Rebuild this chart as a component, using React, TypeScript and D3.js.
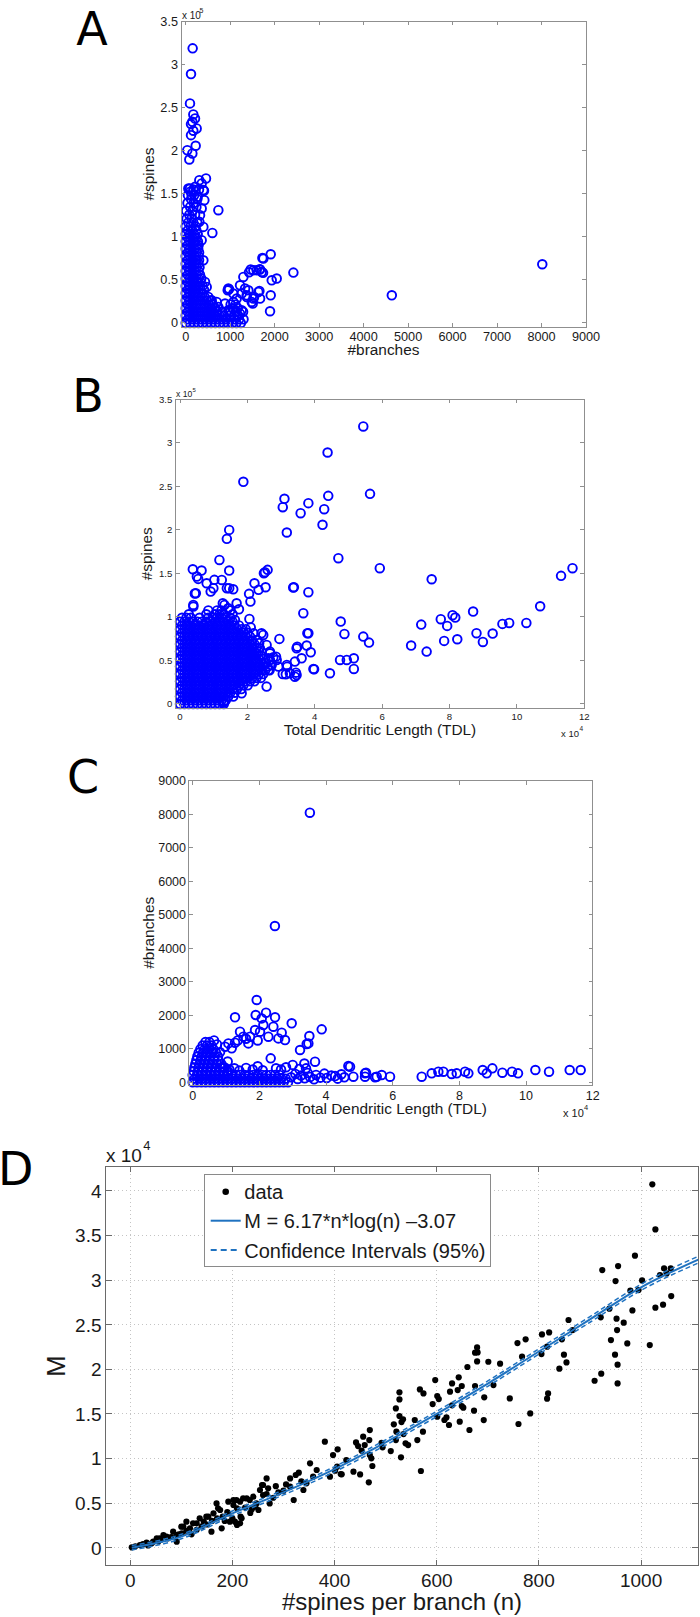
import React from "react";
import * as d3 from "d3";

const FONT = "'Liberation Sans', Arial, Helvetica, sans-serif";
const LETTER_FONT = "'DejaVu Sans', Verdana, sans-serif";
const BLUE = "#0000ff";
const TXT = "#1a1a1a";

type Row = [number, number[]];
type Pt = [number, number];

// ---------------- Panel A : #spines (thousands) vs #branches ----------------
const aTickX = [0, 1000, 2000, 3000, 4000, 5000, 6000, 7000, 8000, 9000];
const aTickY = [0, 50, 100, 150, 200, 250, 300, 350];
const aTickYLabels = ["0", "0.5", "1", "1.5", "2", "2.5", "3", "3.5"];
// dense core: [spines (k), branches list]
const aCoreRows: Row[] = [
  [0, [0, 95, 190, 285, 380, 475, 570, 665, 760, 855, 950, 1045, 1140, 1240]],
  [4.3, [48, 143, 238, 333, 428, 523, 618, 713, 808, 903, 1000, 1100, 1200, 1300]],
  [8.6, [0, 95, 190, 285, 380, 475, 570, 665, 760, 860, 980, 1090, 1180]],
  [13, [48, 143, 238, 333, 428, 523, 618, 713, 820, 1000, 1130, 1290]],
  [17.2, [0, 95, 190, 285, 380, 475, 570, 665, 1050, 1170]],
  [21.5, [48, 143, 238, 333, 428, 523, 610, 1010, 1120]],
  [26, [0, 95, 190, 285, 380, 475, 560]],
  [30, [48, 143, 238, 333, 428]],
  [34.4, [0, 95, 190, 285, 380]],
  [38.7, [48, 143, 238, 333, 410]],
  [43, [0, 95, 190, 285, 380]],
  [47.3, [48, 143, 238, 333]],
  [51.6, [0, 95, 190, 285, 350]],
  [56, [48, 143, 238, 320]],
  [60.2, [0, 95, 190, 285]],
  [64.5, [48, 143, 238, 310]],
  [68.8, [0, 95, 190, 285]],
  [73, [48, 143, 238, 300]],
  [77.4, [0, 95, 190, 285]],
  [81.7, [48, 143, 238, 300]],
  [86, [0, 95, 190, 280]],
  [90.3, [48, 143, 238, 290]],
  [94.6, [0, 95, 190, 275]],
  [99, [48, 143, 238]],
  [103, [0, 95, 190, 270]],
  [107.5, [48, 143, 238]],
  [112, [0, 110, 220]],
  [116.5, [60, 170, 260]],
  [121, [20, 130]],
  [125.5, [80, 210]],
  [130, [10, 150]],
  [134.5, [100, 240]],
  [139, [40, 180]],
  [143.5, [120, 260]],
  [148, [50, 190]],
  [152.5, [110]],
];
// individual circles: [branches, spines (k)]
const aPoints: Pt[] = [
  [156, 318.3], [119, 288.5], [96, 254.5], [171, 241.7], [209, 237.1], [149, 233.2], [119, 230.5],
  [246, 225.5], [171, 222.8], [119, 217.7], [224, 205.4], [36, 200.3], [149, 196.5], [81, 189.5],
  [456, 167.5], [306, 165.5], [411, 153.2], [209, 157.8], [96, 155.9], [359, 161.7], [734, 130.7],
  [599, 104.4], [59, 155.9], [172, 154.7], [299, 154.7], [134, 148.1], [269, 146.2], [397, 154],
  [419, 142.3], [359, 132.7], [322, 125], [307, 117.2], [397, 111.4], [359, 96], [397, 72.7],
  [434, 47.6], [472, 41.8], [509, 30.2], [584, 26.3], [697, 24.4], [734, 18.6],
  [1746, 74.7], [1911, 79.7], [1461, 61.9], [1521, 61.1], [1596, 61.1], [1671, 61.9], [1709, 59.2],
  [2421, 58.4], [1934, 49.5], [2046, 51.5], [1296, 53.4], [1221, 43.7], [959, 39.9], [1409, 37.9],
  [1634, 36], [1911, 32.1], [1484, 24.4], [1896, 13.6], [1371, 32.1], [1071, 34.1], [1521, 28.3],
  [1071, 16.7], [1259, 14.7], [1424, 58.8], [1664, 62.3], [1739, 58.1], [1724, 75.4], [974, 39.1],
  [944, 37.9], [1334, 39.9], [1372, 30.2], [1537, 30.2], [1657, 37.2], [1507, 22.5], [1672, 28.3],
  [1146, 28.3], [1259, 34.1], [1072, 24.4], [959, 14.7], [1222, 10.9], [884, 22.5],
  [4634, 32.1], [8017, 68.1],
];

// ---------------- Panel B : #spines (k) vs TDL (k) ----------------
const bTickX = [0, 20, 40, 60, 80, 100, 120];
const bTickXLabels = ["0", "2", "4", "6", "8", "10", "12"];
const bTickY = [0, 50, 100, 150, 200, 250, 300, 350];
const bTickYLabels = ["0", "0.5", "1", "1.5", "2", "2.5", "3", "3.5"];
const bCoreRows: Row[] = [
  [0, [0, 1.3, 2.6, 3.9, 5.2, 6.5, 7.8, 9.1, 10.4, 11.7, 13]],
  [4.3, [0.6, 1.9, 3.2, 4.5, 5.8, 7.1, 8.4, 9.7, 11, 12.3, 13.6]],
  [8.6, [0, 1.3, 2.6, 3.9, 5.2, 6.5, 7.8, 9.1, 10.4, 11.7, 13, 14.3]],
  [13, [0.6, 1.9, 3.2, 4.5, 5.8, 7.1, 8.4, 9.7, 11, 12.3, 13.6, 14.9, 16.2]],
  [17.2, [0, 1.3, 2.6, 3.9, 5.2, 6.5, 7.8, 9.1, 10.4, 11.7, 13, 14.3, 15.6, 16.9, 18.2]],
  [21.5, [0.6, 1.9, 3.2, 4.5, 5.8, 7.1, 8.4, 9.7, 11, 12.3, 13.6, 14.9, 16.2, 17.5, 18.8, 20.1]],
  [26, [0, 1.3, 2.6, 3.9, 5.2, 6.5, 7.8, 9.1, 10.4, 11.7, 13, 14.3, 15.6, 16.9, 18.2, 19.5, 20.8, 22.1]],
  [30, [0.6, 1.9, 3.2, 4.5, 5.8, 7.1, 8.4, 9.7, 11, 12.3, 13.6, 14.9, 16.2, 17.5, 18.8, 20.1, 21.4, 22.7, 24]],
  [34.4, [0, 1.3, 2.6, 3.9, 5.2, 6.5, 7.8, 9.1, 10.4, 11.7, 13, 14.3, 15.6, 16.9, 18.2, 19.5, 20.8, 22.1, 23.4, 24.7]],
  [38.7, [0.6, 1.9, 3.2, 4.5, 5.8, 7.1, 8.4, 9.7, 11, 12.3, 13.6, 14.9, 16.2, 17.5, 18.8, 20.1, 21.4, 22.7, 24, 25.3, 26.6]],
  [43, [0, 1.3, 2.6, 3.9, 5.2, 6.5, 7.8, 9.1, 10.4, 11.7, 13, 14.3, 15.6, 16.9, 18.2, 19.5, 20.8, 22.1, 23.4, 24.7, 26]],
  [47.3, [0.6, 1.9, 3.2, 4.5, 5.8, 7.1, 8.4, 9.7, 11, 12.3, 13.6, 14.9, 16.2, 17.5, 18.8, 20.1, 21.4, 22.7, 24, 25.3]],
  [51.6, [0, 1.3, 2.6, 3.9, 5.2, 6.5, 7.8, 9.1, 10.4, 11.7, 13, 14.3, 15.6, 16.9, 18.2, 19.5, 20.8, 22.1, 23.4, 24.7]],
  [56, [0.6, 1.9, 3.2, 4.5, 5.8, 7.1, 8.4, 9.7, 11, 12.3, 13.6, 14.9, 16.2, 17.5, 18.8, 20.1, 21.4, 22.7, 24]],
  [60.2, [0, 1.3, 2.6, 3.9, 5.2, 6.5, 7.8, 9.1, 10.4, 11.7, 13, 14.3, 15.6, 16.9, 18.2, 19.5, 20.8, 22.1, 23.4]],
  [64.5, [0.6, 1.9, 3.2, 4.5, 5.8, 7.1, 8.4, 9.7, 11, 12.3, 13.6, 14.9, 16.2, 17.5, 18.8, 20.1, 21.4, 22.7]],
  [68.8, [0, 1.3, 2.6, 3.9, 5.2, 6.5, 7.8, 9.1, 10.4, 11.7, 13, 14.3, 15.6, 16.9, 18.2, 19.5, 20.8, 22.1]],
  [73, [0.6, 1.9, 3.2, 4.5, 5.8, 7.1, 8.4, 9.7, 11, 12.3, 13.6, 14.9, 16.2, 17.5, 18.8, 20.1, 21.4]],
  [77.4, [0, 1.3, 2.6, 3.9, 5.2, 6.5, 7.8, 9.1, 10.4, 11.7, 13, 14.3, 15.6, 16.9, 18.2, 19.5, 20.8]],
  [81.7, [0.6, 1.9, 3.2, 4.5, 5.8, 7.1, 8.4, 9.7, 11, 12.3, 13.6, 14.9, 16.2, 17.5, 18.8, 20.1]],
  [86, [0, 1.3, 2.6, 3.9, 5.2, 6.5, 7.8, 9.1, 10.4, 11.7, 13, 14.3, 15.6, 16.9, 18.2, 19.5]],
  [90.3, [0.6, 1.9, 3.2, 4.5, 5.8, 7.1, 8.4, 9.7, 11, 12.3, 13.6, 14.9, 16.2, 17.5]],
  [94.6, [0, 1.3, 2.6, 3.9, 5.2, 6.5, 7.8, 9.1, 10.4, 11.7, 13, 14.3, 15.6]],
  [99, [0.6, 1.9, 3.2, 5.8, 8.4, 9.7, 11, 12.3, 13.6, 14.9]],
  [103, [2.6, 7.8, 10.4, 11.7, 13, 15.6]],
  [107.5, [8.4, 11, 12.3, 14.9]],
];
const bPoints: Pt[] = [
  [43.8, 288.9], [18.8, 255.2], [31.0, 235.7], [30.5, 226.1], [38.1, 230.7], [35.8, 219.2], [42.8, 223.8],
  [44.0, 239.1], [42.3, 205.8], [31.7, 197.0], [47.0, 167.5], [14.6, 200], [13.9, 189.7], [11.7, 165.5],
  [3.8, 154.8], [6.4, 153.3], [5.0, 146.4], [5.4, 143.7], [14.6, 153.3], [25.2, 151.4], [26.0, 154.1],
  [22.1, 138.7], [23.3, 131.1], [25.4, 134.1], [10.2, 142.6], [13.9, 133.0], [15.8, 131.8], [33.6, 133.8],
  [38.1, 128.4], [36.6, 104.3], [4.7, 127.2], [3.96, 111.9], [47.7, 94.7], [48.8, 80.5], [38.1, 81.3],
  [29.5, 74.8], [34.8, 65.9], [37.6, 67.1], [38.8, 59.4], [36.1, 52.5], [34.6, 33.4], [39.6, 40.3],
  [44.5, 35.3], [47.5, 50.6], [30.5, 34.5], [32.6, 35.3], [31.7, 44.9], [34.1, 48.7], [29.2, 43.0],
  [26.7, 50.6], [54.4, 318.8], [56.4, 241.4], [59.3, 156.0], [74.7, 143.3], [51.6, 52.5], [51.6, 40.3],
  [54.4, 77.4], [56.1, 70.5], [68.6, 67.1], [71.6, 91.2], [73.2, 60.2], [77.4, 97.4], [78.4, 72.5],
  [79.3, 89.7], [80.9, 102.0], [81.7, 99.3], [82.3, 74.4], [87.0, 106.2], [88.0, 81.3], [89.9, 71.3],
  [92.8, 80.9], [95.7, 92.0], [97.7, 93.1], [102.8, 93.1], [106.9, 112.3], [113.1, 147.2], [116.5, 156.0],
  [12.4, 142.5], [14.6, 133], [9.9, 133], [24.9, 150.2], [20.5, 126.5], [20.9, 117.6], [33.8, 134.1],
  [37.8, 81.2], [34.6, 64], [39.8, 39.9], [31.4, 34.1], [34.1, 31.4], [34.4, 36], [31.8, 42.9],
  [26.2, 52.5], [26.7, 60.2], [24.7, 79.3], [20.6, 97.7], [25.7, 20], [18.3, 12.3], [12.9, 1.6],
  [15.8, 8.5], [28.5, 54.4], [4.4, 127], [3.95, 113.8], [7.9, 138.7], [9.1, 129.1], [12.7, 115.7],
  [13.2, 113.8], [14.3, 110], [16.8, 115.7], [17.5, 108.8], [16.3, 96.6], [21.8, 81.2], [24.2, 81.2],
  [22.9, 73.6], [25.7, 67.8], [23.7, 64], [22.7, 58.3], [26.7, 58.3], [27.7, 53.7], [28.7, 50.6],
  [20.6, 58.3], [13.1, 2.7], [49.5, 50.6], [27.2, 44.5], [26.3, 39], [23.5, 70], [21, 88],
];

// ---------------- Panel C : #branches vs TDL (k) ----------------
const cTickX = [0, 20, 40, 60, 80, 100, 120];
const cTickXLabels = ["0", "2", "4", "6", "8", "10", "12"];
const cTickY = [0, 1000, 2000, 3000, 4000, 5000, 6000, 7000, 8000, 9000];
const cCoreRows: Row[] = [
  [0, [0, 1.3, 2.6, 3.9, 5.2, 6.5, 7.8, 9.1, 10.4, 11.7, 13, 14.3, 15.6, 16.9, 18.2, 19.5, 20.8, 22.1, 23.4, 24.7, 26, 27.3, 28.6]],
  [110, [0.6, 1.9, 3.2, 4.5, 5.8, 7.1, 8.4, 9.7, 11, 12.3, 13.6, 14.9, 16.2, 17.5, 18.8, 20.1, 21.4, 22.7, 24, 25.3, 26.6, 27.9]],
  [220, [0, 1.3, 2.6, 3.9, 5.2, 6.5, 7.8, 9.1, 10.4, 11.7, 13, 14.3, 15.6, 16.9, 18.2, 19.5, 20.8, 22.1, 23.4, 24.7, 26]],
  [330, [0.3, 1.6, 2.9, 4.2, 5.5, 6.8, 8.1, 9.4, 10.6]],
  [440, [0.5, 1.8, 3.1, 4.4, 5.7, 7, 8.3, 9.6]],
  [550, [0.8, 2.1, 3.4, 4.7, 6, 7.3, 8.6]],
  [660, [1.1, 2.4, 3.7, 5, 6.3, 7.6]],
  [770, [1.4, 2.7, 4, 5.3, 6.6, 7.6]],
  [880, [1.8, 3.1, 4.4, 5.7, 7]],
  [990, [2.3, 3.6, 4.9, 6.2]],
  [1100, [3, 4.3, 5.6]],
  [1200, [3.8, 5]],
];
// [TDL (k), branches]
const cPoints: Pt[] = [
  [35.15, 8046], [24.66, 4664], [19.2, 2456], [22, 2078], [24.7, 1939], [12.7, 1939], [29.7, 1760],
  [38.7, 1580], [14.2, 1511], [35, 1382], [34.2, 1143], [32.2, 964], [23.4, 715], [36.7, 616],
  [34, 417], [27.7, 1262], [18.9, 2008], [20.7, 1908], [24.2, 1660], [26.7, 1480], [18.7, 1560],
  [17.2, 1361], [15.2, 1361], [12.7, 1182], [10.7, 1162], [9.7, 1063], [11.7, 1013], [16.7, 1162],
  [20.2, 1510], [21.2, 1710], [22.7, 1361], [25.7, 1311], [34.7, 1162], [46.7, 486], [52, 287],
  [55.2, 167], [42.7, 187], [13.5, 1250], [16, 1300], [19.5, 1250], [9, 450], [11, 380], [12.5, 420],
  [14, 350], [16, 430], [18, 380], [19.5, 480], [21, 360], [25, 420], [26.5, 380], [28, 450],
  [30, 520], [32, 400], [33.5, 560], [10.5, 620], [8.2, 900], [7.3, 1130], [6.4, 1250],
  [29.5, 150], [30.8, 250], [31.5, 100], [32.5, 200], [33.6, 120], [34.5, 280], [35.2, 160],
  [36.4, 90], [37, 220], [38.3, 140], [39.5, 260], [40.2, 130], [41.6, 200], [43.5, 110], [44.6, 240],
  [45.5, 150], [47.2, 466], [48.2, 168], [51.7, 268], [51.7, 168], [54.7, 148], [56.7, 218],
  [59.2, 168], [68.7, 168], [71.7, 268], [73.7, 317], [75.2, 317], [77.7, 248], [79.2, 268],
  [81.7, 317], [82.7, 268], [87, 367], [88.2, 268], [89.9, 417], [92.9, 288], [95.8, 317],
  [97.6, 268], [102.8, 367], [106.9, 317], [113.1, 367], [116.4, 367],
];

// ---------------- Panel D : M vs #spines per branch ----------------
const dTickX = [0, 200, 400, 600, 800, 1000];
const dTickY = [0, 5000, 10000, 15000, 20000, 25000, 30000, 35000, 40000];
const dTickYLabels = ["0", "0.5", "1", "1.5", "2", "2.5", "3", "3.5", "4"];
// [n, M]
const dPoints: Pt[] = [
  [1022, 40740], [1028, 35690], [988, 32740], [924, 31130], [955, 31580], [950, 29900], [1002, 29970],
  [979, 28820], [995, 28890], [983, 26610], [1037, 30570], [1045, 31320], [1058, 31320], [1050, 30760],
  [1059, 28220], [1028, 26910], [1043, 27250], [1017, 22720], [938, 26800], [921, 25830], [952, 25680],
  [966, 25230], [953, 24400], [941, 23280], [973, 22910], [949, 21640], [954, 20520], [922, 19510],
  [909, 18720], [954, 18420], [858, 25530], [866, 24400], [845, 23360], [849, 21640], [854, 20780],
  [840, 20070], [820, 24140], [806, 23920], [816, 22540], [805, 21710], [818, 17300], [816, 16710],
  [758, 22950], [774, 23360], [767, 21420], [783, 15060], [760, 13870], [743, 16740], [724, 20630],
  [701, 20850], [679, 22460], [680, 21900], [675, 21870], [679, 20890], [660, 20260], [711, 18240],
  [693, 16860], [675, 18130], [673, 15360], [692, 14310], [643, 19100], [630, 18420], [641, 17680],
  [626, 17490], [649, 18130], [652, 15700], [649, 15890], [645, 14130], [664, 13200], [630, 15960],
  [619, 14610], [624, 13760], [615, 14320], [604, 16670], [601, 17000], [597, 18800], [592, 16110],
  [601, 14690], [567, 17750], [574, 17300], [573, 13010], [562, 12070], [569, 8600], [527, 17420],
  [527, 16630], [520, 15620], [527, 14760], [534, 14390], [516, 13830], [531, 14090], [521, 13010],
  [535, 12740], [539, 11700], [544, 11510], [530, 10130], [520, 12070], [492, 11770], [494, 11250],
  [510, 10840], [557, 14320], [469, 13190], [468, 12070], [456, 12450], [442, 11810], [459, 11510],
  [469, 10390], [474, 9160], [472, 10020], [467, 7330], [450, 8220], [437, 8520], [453, 10880],
  [446, 11400], [381, 11890], [397, 10390], [406, 11030], [401, 8630], [412, 8260], [423, 9830],
  [391, 7960], [352, 9460], [365, 8710], [358, 7960], [320, 5350], [345, 7220], [339, 6470],
  [313, 7770], [324, 8150], [267, 7770], [260, 7030], [254, 6470], [270, 6660], [260, 5910],
  [273, 4970], [241, 5720], [251, 4230], [228, 5530], [215, 5160], [202, 5350], [192, 5160],
  [209, 4410], [216, 3480], [200, 3290], [195, 2920], [215, 2730], [179, 2170], [169, 4970],
  [176, 4230], [163, 3850], [144, 2920], [136, 3290], [153, 3480], [159, 1800], [123, 2730],
  [117, 2170], [104, 2360], [110, 2920], [101, 1610], [91, 1420], [84, 1800], [74, 1050],
  [65, 1420], [52, 1050], [42, 490], [32, 560], [19, 300], [3, 40], [405, 9090], [414, 8230],
  [330, 8410], [335, 7440], [313, 6840], [258, 7030], [267, 6020], [247, 4970], [234, 5350],
  [238, 4300], [221, 5540], [208, 5350], [202, 4790], [192, 3850], [205, 2920], [218, 3290],
  [209, 2550], [172, 4410], [181, 3480], [149, 3480], [130, 2730], [100, 2360], [71, 1240],
  [58, 1050], [45, 680], [91, 680], [10, 150], [25, 400], [35, 250], [55, 700], [60, 900],
  [80, 1200], [95, 1500], [110, 1900], [120, 1500], [130, 2000], [140, 2400], [150, 2600],
  [160, 3000], [170, 3300], [185, 3000], [190, 4000], [225, 4500], [235, 3900], [245, 4600],
  [280, 5600], [290, 6200], [300, 6400], [305, 7100], [285, 6900],
];
const fitN = [3, 100, 200, 300, 400, 500, 600, 700, 800, 900, 1000, 1112];
const fitM = [0, 1250, 3850, 6200, 8800, 11800, 15000, 18400, 22000, 25600, 29200, 32300];
const ciLow = [-250, 1000, 3580, 5920, 8510, 11500, 14700, 18100, 21700, 25280, 28860, 31920];
const ciHigh = [250, 1500, 4120, 6480, 9090, 12100, 15300, 18700, 22300, 25920, 29540, 32680];

const flatten = (rows: Row[]): Pt[] => rows.flatMap(([yv, xs]) => xs.map((xv) => [xv, yv] as Pt));

type Scale = d3.ScaleLinear<number, number>;

function Frame({ x, y, xTicks, yTicks, stroke, len }: { x: Scale; y: Scale; xTicks: number[]; yTicks: number[]; stroke: string; len: number }) {
  const [x0, x1] = x.range();
  const [yb, yt] = y.range();
  return (
    <g stroke={stroke} strokeWidth={1} fill="none" shapeRendering="crispEdges">
      <rect x={x0} y={yt} width={x1 - x0} height={yb - yt} />
      {xTicks.map((t) => (
        <g key={"x" + t}>
          <line x1={x(t)} x2={x(t)} y1={yb} y2={yb - len} />
          <line x1={x(t)} x2={x(t)} y1={yt} y2={yt + len} />
        </g>
      ))}
      {yTicks.map((t) => (
        <g key={"y" + t}>
          <line x1={x0} x2={x0 + len} y1={y(t)} y2={y(t)} />
          <line x1={x1} x2={x1 - len} y1={y(t)} y2={y(t)} />
        </g>
      ))}
    </g>
  );
}

function Circles({ pts, x, y }: { pts: Pt[]; x: Scale; y: Scale }) {
  return (
    <g fill="none" stroke={BLUE} strokeWidth={1.9}>
      {pts.map((p, i) => (
        <circle key={i} cx={x(p[0])} cy={y(p[1])} r={4.3} />
      ))}
    </g>
  );
}

export default function App() {
  // Panel A
  const ax = d3.scaleLinear().domain([-106, 9000]).range([181, 586]);
  const ay = d3.scaleLinear().domain([-4.64, 350]).range([327, 21]);
  const aAll = [...flatten(aCoreRows), ...aPoints];
  // Panel B
  const bx = d3.scaleLinear().domain([-1.28, 120]).range([175.7, 584.3]);
  const by = d3.scaleLinear().domain([-4.94, 350]).range([708.3, 399.3]);
  const bAll = [...flatten(bCoreRows), ...bPoints];
  // Panel C
  const cx = d3.scaleLinear().domain([-1.2, 120]).range([188.7, 592.7]);
  const cy = d3.scaleLinear().domain([-80, 9000]).range([1085, 780.7]);
  const cAll = [...flatten(cCoreRows), ...cPoints];
  // Panel D
  const dx = d3.scaleLinear().domain([-48, 1112]).range([105.7, 698.3]);
  const dy = d3.scaleLinear().domain([-2018, 42800]).range([1565.7, 1166]);
  const lineGen = (vals: number[]) =>
    d3.line<number>().x((_, i) => dx(fitN[i])).y((v) => dy(v)).curve(d3.curveMonotoneX)(vals) || "";
  const fitColor = "#1f72c0";

  return (
    <svg width={700} height={1617} style={{ position: "absolute", left: 0, top: 0, background: "#fff" }} fontFamily={FONT}>
      <rect x={0} y={0} width={700} height={1617} fill="#fff" />
      {/* Panel letters */}
      <g fontFamily={LETTER_FONT} fontSize={46} fill="#000">
        <text x={92} y={45} textAnchor="middle">A</text>
        <text x={88} y={412} textAnchor="middle">B</text>
        <text x={83} y={793} textAnchor="middle">C</text>
        <text x={-2} y={1185}>D</text>
      </g>

      {/* ---------- A ---------- */}
      <Circles pts={aAll} x={ax} y={ay} />
      <Frame x={ax} y={ay} xTicks={aTickX} yTicks={aTickY} stroke="#8f8f8f" len={4} />
      <g fontSize={12.7} fill={TXT}>
        {aTickX.map((t) => (
          <text key={t} x={ax(t)} y={341} textAnchor="middle">{t}</text>
        ))}
        {aTickY.map((t, i) => (
          <text key={t} x={178} y={ay(t) + 4.5} textAnchor="end">{aTickYLabels[i]}</text>
        ))}
      </g>
      <text x={182} y={18.5} fontSize={10} fill={TXT}>x 10</text>
      <text x={199.5} y={12.5} fontSize={7} fill={TXT}>5</text>
      <text x={383.5} y={355} fontSize={15.4} fill={TXT} textAnchor="middle">#branches</text>
      <text transform="translate(154,174) rotate(-90)" fontSize={15.4} fill={TXT} textAnchor="middle">#spines</text>

      {/* ---------- B ---------- */}
      <Circles pts={bAll} x={bx} y={by} />
      <Frame x={bx} y={by} xTicks={bTickX} yTicks={bTickY} stroke="#8f8f8f" len={4} />
      <g fontSize={9.6} fill={TXT}>
        {bTickX.map((t, i) => (
          <text key={t} x={bx(t)} y={720.3} textAnchor="middle">{bTickXLabels[i]}</text>
        ))}
        {bTickY.map((t, i) => (
          <text key={t} x={172.3} y={by(t) + 3.5} textAnchor="end">{bTickYLabels[i]}</text>
        ))}
      </g>
      <text x={176} y={396.5} fontSize={8.6} fill={TXT}>x 10</text>
      <text x={192.5} y={391.5} fontSize={6} fill={TXT}>5</text>
      <text x={380} y={734.5} fontSize={15.4} fill={TXT} textAnchor="middle">Total Dendritic Length (TDL)</text>
      <text x={561} y={736.5} fontSize={9.5} fill={TXT}>x 10</text>
      <text x={579.5} y={730.5} fontSize={6.5} fill={TXT}>4</text>
      <text transform="translate(151.5,553.8) rotate(-90)" fontSize={15.4} fill={TXT} textAnchor="middle">#spines</text>

      {/* ---------- C ---------- */}
      <Circles pts={cAll} x={cx} y={cy} />
      <Frame x={cx} y={cy} xTicks={cTickX} yTicks={cTickY} stroke="#8f8f8f" len={4} />
      <g fontSize={12.5} fill={TXT}>
        {cTickX.map((t, i) => (
          <text key={t} x={cx(t)} y={1099.5} textAnchor="middle">{cTickXLabels[i]}</text>
        ))}
        {cTickY.map((t) => (
          <text key={t} x={186} y={cy(t) + 4.5} textAnchor="end">{t}</text>
        ))}
      </g>
      <text x={390.7} y={1114} fontSize={15.4} fill={TXT} textAnchor="middle">Total Dendritic Length (TDL)</text>
      <text x={563} y={1117} fontSize={11} fill={TXT}>x 10</text>
      <text x={584} y={1110} fontSize={7.5} fill={TXT}>4</text>
      <text transform="translate(153.5,932.8) rotate(-90)" fontSize={15.4} fill={TXT} textAnchor="middle">#branches</text>

      {/* ---------- D ---------- */}
      <g stroke="#c4c4c4" strokeWidth={1} strokeDasharray="1,3" shapeRendering="crispEdges">
        {dTickX.map((t) => (
          <line key={"gx" + t} x1={dx(t)} x2={dx(t)} y1={1166} y2={1565.7} />
        ))}
        {dTickY.map((t) => (
          <line key={"gy" + t} x1={105.7} x2={698.3} y1={dy(t)} y2={dy(t)} />
        ))}
      </g>
      <g fill="#000">
        {dPoints.map((p, i) => (
          <circle key={i} cx={dx(p[0])} cy={dy(p[1])} r={3.1} />
        ))}
      </g>
      <path d={lineGen(fitM)} fill="none" stroke={fitColor} strokeWidth={2} />
      <path d={lineGen(ciLow)} fill="none" stroke={fitColor} strokeWidth={1.5} strokeDasharray="5,3" />
      <path d={lineGen(ciHigh)} fill="none" stroke={fitColor} strokeWidth={1.5} strokeDasharray="5,3" />
      <Frame x={dx} y={dy} xTicks={dTickX} yTicks={dTickY} stroke="#6a6a6a" len={6} />
      <g fontSize={19} fill={TXT}>
        {dTickX.map((t) => (
          <text key={t} x={dx(t)} y={1587} textAnchor="middle">{t}</text>
        ))}
        {dTickY.map((t, i) => (
          <text key={t} x={101.5} y={dy(t) + 6.8} textAnchor="end">{dTickYLabels[i]}</text>
        ))}
      </g>
      <text x={106} y={1162.3} fontSize={19} fill={TXT}>x 10</text>
      <text x={143.3} y={1150} fontSize={13} fill={TXT}>4</text>
      <text x={402} y={1610} fontSize={24} fill={TXT} textAnchor="middle">#spines per branch (n)</text>
      <text transform="translate(65,1366) rotate(-90)" fontSize={25.6} fill={TXT} textAnchor="middle">M</text>

      {/* legend */}
      <rect x={204} y={1174.3} width={286.7} height={92.4} fill="#fff" stroke="#8a8a8a" strokeWidth={1} shapeRendering="crispEdges" />
      <circle cx={225.7} cy={1191.7} r={3.3} fill="#000" />
      <line x1={210.7} x2={240.7} y1={1220.7} y2={1220.7} stroke={fitColor} strokeWidth={2} />
      <line x1={210.7} x2={240.7} y1={1250} y2={1250} stroke={fitColor} strokeWidth={2} strokeDasharray="6,4" />
      <g fontSize={20} fill={TXT}>
        <text x={244.3} y={1198.5}>data</text>
        <text x={244.3} y={1228}>M = 6.17*n*log(n) –3.07</text>
        <text x={244.3} y={1257.5}>Confidence Intervals (95%)</text>
      </g>
    </svg>
  );
}
